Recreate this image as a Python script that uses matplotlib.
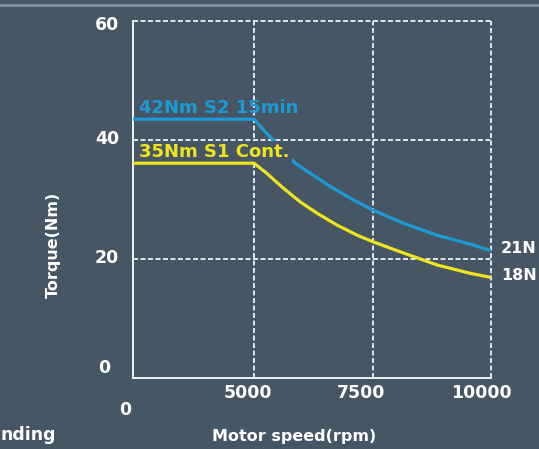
import numpy as np
import matplotlib
matplotlib.use('Agg')
import matplotlib.pyplot as plt
from matplotlib.lines import Line2D
from matplotlib.transforms import ScaledTranslation

# Data
speed_s2 = [0, 5000, 5232, 5443, 5865, 6181, 6603, 7025, 7500, 8150, 8854, 9557, 10000]
torque_s2 = [43.5, 43.5, 41.4, 39.7, 36.1, 34.4, 32.2, 30.2, 28.2, 26.0, 24.0, 22.5, 21.4]
speed_s1 = [0, 5000, 5268, 5618, 5970, 6323, 6745, 7167, 7500, 8150, 8854, 9557, 10000]
torque_s1 = [36.1, 36.1, 34.4, 31.9, 29.6, 27.7, 25.7, 24.0, 22.9, 21.0, 19.0, 17.6, 16.9]

x_ticks = [0, 5000, 7500, 10000]
x_labels = ['0', '5000', '7500', '10000']
y_ticks = [0, 20, 40, 60]
y_labels = ['0', '20', '40', '60']

label_s2 = '42Nm S2 15min'
label_s1 = '35Nm S1 Cont.'
end_labels = ['21N', '18N']

bg = '#465665'
blue = '#1b9ad6'
yellow = '#f0e41e'
font = 'DejaVu Sans'

fig = plt.figure(figsize=(5.39, 4.49), dpi=100, facecolor=bg)
ax = fig.add_axes([133 / 539, 1 - 378 / 449, 358 / 539, 357 / 449])
ax.set_facecolor(bg)

# Non-linear speed axis: 0-5000 is about as wide as 5000-7500
scale_x = [0, 5000, 7500, 10000]
scale_pos = [0, 121, 240, 358]

def fwd(x):
    return np.interp(x, scale_x, scale_pos)

def inv(x):
    return np.interp(x, scale_pos, scale_x)

ax.set_xscale('function', functions=(fwd, inv))
ax.set_xlim(0, 10000)
ax.set_ylim(0, 60)

# Curves
ax.plot(speed_s2, torque_s2, color=blue, lw=2.3, solid_capstyle='butt', zorder=3)
ax.plot(speed_s1, torque_s1, color=yellow, lw=2.3, solid_capstyle='butt', zorder=3.2)

# Grid and frame
ax.set_xticks(x_ticks)
ax.set_yticks(y_ticks)
ax.tick_params(length=0, labelbottom=False, labelleft=False)
for xv in x_ticks[1:]:
    ax.axvline(xv, color='white', lw=1.2, ls=(0, (3, 1.5)), clip_on=False, zorder=2)
for yv in y_ticks[1:]:
    ax.axhline(yv, color='white', lw=1.2, ls=(0, (3, 1.5)), clip_on=False, zorder=2)
for side in ['top', 'right']:
    ax.spines[side].set_visible(False)
for side in ['left', 'bottom']:
    ax.spines[side].set_color('white')
    ax.spines[side].set_linewidth(1.3)

def px(dx, dy):
    return ScaledTranslation(dx / 100, dy / 100, fig.dpi_scale_trans)

txt = dict(color='white', family=font, fontweight='bold')

# Tick labels (placed by hand to match the offsets of the original)
x_off = [(-8, -32), (-6, -15), (-12, -15), (-10, -15)]
for xv, lab, (dx, dy) in zip(x_ticks, x_labels, x_off):
    ax.text(xv, 0, lab, transform=ax.get_xaxis_transform() + px(dx, dy),
            ha='center', va='center', fontsize=12.5, **txt)
y_off = [(-23, 10), (-14, 1), (-14, 1), (-14, -4)]
for yv, lab, (dx, dy) in zip(y_ticks, y_labels, y_off):
    ax.text(0, yv, lab, transform=ax.get_yaxis_transform() + px(dx, dy),
            ha='right', va='center', fontsize=12.5, **txt)

# Curve labels (the yellow one sits on a background patch that breaks the blue curve)
ax.text(0, torque_s2[0], label_s2, transform=ax.get_yaxis_transform() + px(6, 11),
        ha='left', va='center', color=blue, fontsize=13, family=font,
        fontweight='bold', zorder=4)
ax.text(0, torque_s1[0], label_s1, transform=ax.get_yaxis_transform() + px(6, 11),
        ha='left', va='center', color=yellow, fontsize=13, family=font,
        fontweight='bold', zorder=3.1,
        bbox=dict(facecolor=bg, edgecolor='none', boxstyle='square,pad=0.12'))
ax.text(10000, torque_s2[-1], end_labels[0], transform=ax.transData + px(10, 2),
        ha='left', va='center', fontsize=11.5, clip_on=False, **txt)
ax.text(10000, torque_s1[-1], end_labels[1], transform=ax.transData + px(10, 2),
        ha='left', va='center', fontsize=11.5, clip_on=False, **txt)

# Axis titles
fig.text(53 / 539, 1 - 245 / 449, 'Torque(Nm)', rotation=90, ha='center', va='center',
         fontsize=11.5, **txt)
fig.text(294 / 539, 1 - 436 / 449, 'Motor speed(rpm)', ha='center', va='center',
         fontsize=11.5, **txt)
fig.text(0, 1 - 435 / 449, 'nding', ha='left', va='center', fontsize=12.5, **txt)

# Light band at the top edge
fig.add_artist(Line2D([0, 1], [1 - 5 / 449, 1 - 5 / 449], color='#8a98a3', lw=1.8,
                      transform=fig.transFigure))

fig.savefig('out.png', dpi=100, facecolor=bg)
